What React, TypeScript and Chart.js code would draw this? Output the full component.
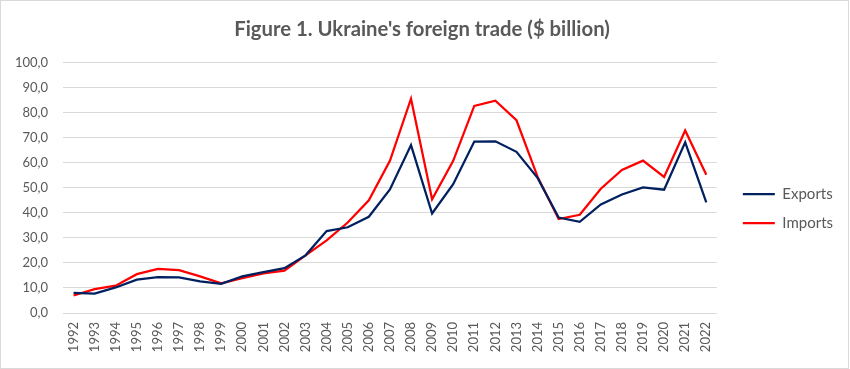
import React, { useEffect, useRef } from "react";
import { Chart, registerables } from "chart.js";

Chart.register(...registerables);

const years = [
  "1992", "1993", "1994", "1995", "1996", "1997", "1998", "1999", "2000", "2001",
  "2002", "2003", "2004", "2005", "2006", "2007", "2008", "2009", "2010", "2011",
  "2012", "2013", "2014", "2015", "2016", "2017", "2018", "2019", "2020", "2021", "2022",
];

const exportsBn = [
  8.0, 7.7, 10.2, 13.3, 14.3, 14.2, 12.6, 11.6, 14.6, 16.3,
  17.9, 23.0, 32.7, 34.2, 38.4, 49.3, 67.0, 39.7, 51.4, 68.4,
  68.5, 64.3, 53.9, 38.1, 36.4, 43.3, 47.3, 50.1, 49.2, 68.1, 44.1,
];

const importsBn = [
  7.0, 9.5, 10.9, 15.5, 17.6, 17.1, 14.6, 11.8, 13.9, 15.8,
  16.9, 23.0, 29.0, 36.1, 45.0, 60.7, 85.5, 45.4, 60.7, 82.6,
  84.7, 76.9, 54.4, 37.5, 39.2, 49.6, 57.1, 60.8, 54.3, 72.8, 55.2,
];

const yTicks = [0, 10, 20, 30, 40, 50, 60, 70, 80, 90, 100];

const titleText = "Figure 1. Ukraine's foreign trade ($ billion)";
const FONT = "Lato, 'Open Sans', sans-serif";
const GREY = "#595959";

export default function App() {
  const ref = useRef<HTMLCanvasElement | null>(null);

  useEffect(() => {
    document.body.style.margin = "0";
    const canvas = ref.current;
    if (!canvas) return;
    const chart = new Chart(canvas, {
      type: "line",
      data: {
        labels: years,
        datasets: [
          {
            label: "Exports",
            data: exportsBn,
            borderColor: "#002060",
            backgroundColor: "#002060",
            borderWidth: 2.25,
            pointRadius: 0,
            tension: 0,
          },
          {
            label: "Imports",
            data: importsBn,
            borderColor: "#FF0000",
            backgroundColor: "#FF0000",
            borderWidth: 2.25,
            pointRadius: 0,
            tension: 0,
          },
        ],
      },
      options: {
        responsive: false,
        animation: false,
        layout: { padding: { left: 0, right: 5, top: 6, bottom: 0 } },
        plugins: {
          title: {
            display: true,
            text: titleText,
            color: GREY,
            font: { family: FONT, size: 20.3, weight: "bold" },
            padding: { top: 10, bottom: 21 },
          },
          legend: {
            position: "right",
            title: {
              display: true,
              text: " ",
              font: { size: 10 },
              padding: { top: 0, bottom: 30 },
            },
            labels: {
              color: GREY,
              font: { family: FONT, size: 15 },
              usePointStyle: true,
              pointStyle: "line",
              pointStyleWidth: 32,
              padding: 14,
            },
          },
          tooltip: { enabled: false },
        },
        scales: {
          x: {
            offset: true,
            grid: { display: false, drawTicks: false },
            border: { display: false },
            ticks: {
              color: GREY,
              font: { family: FONT, size: 13 },
              maxRotation: 90,
              minRotation: 90,
              autoSkip: false,
              padding: 9,
            },
            afterFit: (scale: any) => {
              scale.height = 55;
              scale.paddingLeft = 0;
              scale.paddingRight = 0;
            },
          },
          y: {
            min: yTicks[0],
            max: yTicks[yTicks.length - 1],
            grid: { color: "#d9d9d9", lineWidth: 1, drawTicks: false },
            border: { display: false },
            afterBuildTicks: (axis: any) => {
              axis.ticks = yTicks.map((v) => ({ value: v }));
            },
            ticks: {
              color: GREY,
              font: { family: FONT, size: 13 },
              padding: 15,
              callback: (v: any) => Number(v).toFixed(1).replace(".", ","),
            },
            afterFit: (scale: any) => {
              scale.width = 62;
            },
          },
          gap: {
            type: "linear",
            position: "right",
            display: true,
            grid: { display: false, drawTicks: false },
            border: { display: false },
            ticks: { display: false },
            afterFit: (scale: any) => {
              scale.width = 12;
            },
          },
        },
      },
    });
    return () => chart.destroy();
  }, []);

  return (
    <div
      style={{
        width: 849,
        height: 369,
        border: "1px solid #d9d9d9",
        boxSizing: "border-box",
        background: "#fff",
      }}
    >
      <canvas ref={ref} width={847} height={367} style={{ display: "block" }} />
    </div>
  );
}
